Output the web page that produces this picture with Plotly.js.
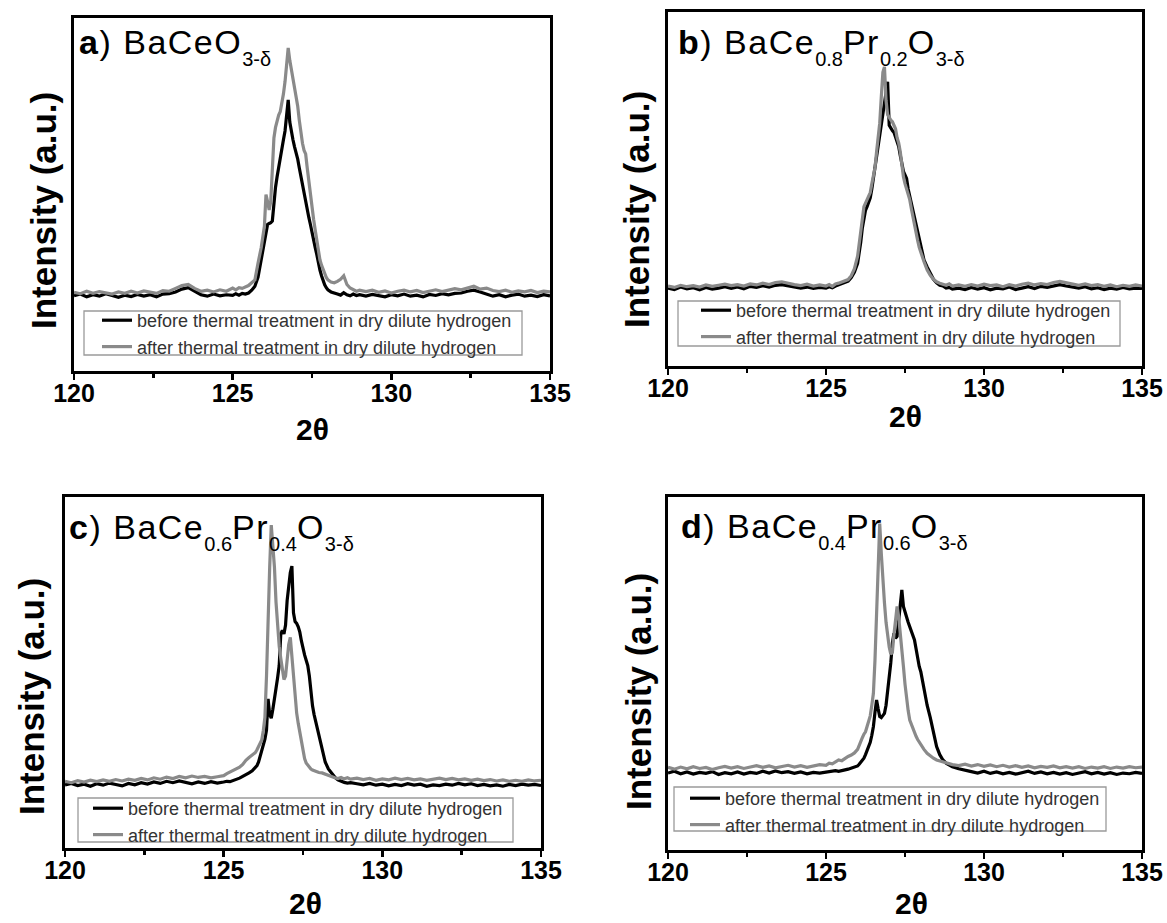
<!DOCTYPE html>
<html><head><meta charset="utf-8">
<script src="https://cdn.plot.ly/plotly-3.0.1.min.js"></script>
<style>html,body{margin:0;padding:0;background:#fff;}#chart{width:1167px;height:923px;}</style>
</head><body><div id="chart"></div>
<script>
// 2θ sampling grid (deg)
const twoTheta = [
 120.0,120.2,120.4,120.6,120.8,121.0,121.2,121.4,121.6,121.8,122.0,122.2,122.4,122.6,122.8,123.0,123.2,123.4,123.6,123.8,124.0,124.2,124.4,124.6,124.8,
 125.0,125.1,125.2,125.3,125.4,125.5,125.6,125.7,125.8,125.9,
 126.0,126.05,126.1,126.15,126.2,126.25,126.3,126.35,126.4,126.45,126.5,126.55,126.6,126.65,126.7,126.75,126.8,126.85,126.9,126.95,
 127.0,127.05,127.1,127.15,127.2,127.25,127.3,127.35,127.4,127.45,127.5,127.55,127.6,127.65,127.7,127.75,127.8,127.85,127.9,127.95,128.0,
 128.1,128.2,128.3,128.4,128.5,128.6,128.7,128.8,128.9,129.0,
 129.2,129.4,129.6,129.8,130.0,130.2,130.4,130.6,130.8,131.0,131.2,131.4,131.6,131.8,132.0,132.2,132.4,132.6,132.8,133.0,133.2,133.4,133.6,133.8,134.0,134.2,134.4,134.6,134.8,135.0
];

// a) BaCeO3-δ
const aBefore = [
 21.3,21.8,21.0,21.6,21.2,21.9,21.4,20.9,21.5,21.1,21.7,21.2,21.6,21.0,21.8,21.9,22.4,23.2,23.6,22.5,21.6,21.2,21.8,21.3,21.6,
 21.4,21.9,21.5,22.0,21.8,22.1,22.9,24.0,26.6,32.0,
 37.0,40.0,41.5,41.8,42.0,42.5,48.0,52.0,55.0,58.0,61.0,63.5,65.5,68.0,72.5,76.8,70.5,67.5,65.5,63.5,
 62.0,60.0,57.5,55.0,53.0,50.5,48.0,45.0,43.5,41.5,39.0,37.0,35.0,33.0,30.5,28.6,27.0,25.5,24.4,23.6,23.0,
 22.4,22.0,21.8,21.5,22.2,21.6,21.3,21.8,21.4,21.6,
 21.2,21.7,21.4,21.0,21.6,21.3,21.8,21.2,21.5,21.0,21.7,21.4,21.9,21.6,22.0,22.1,22.6,22.9,22.4,21.9,21.2,21.6,21.0,21.5,21.8,21.2,21.5,21.1,21.6,21.3
];
const aAfter = [
 22.3,21.9,22.6,22.0,22.5,22.2,21.8,22.4,22.0,22.6,22.1,22.7,22.3,22.0,22.8,22.6,23.4,24.2,24.5,23.4,22.6,22.9,22.4,23.0,22.6,
 23.5,23.0,23.6,23.4,23.8,24.2,25.0,25.8,30.6,35.0,
 41.0,50.0,48.0,45.6,48.0,58.0,66.0,69.0,71.0,72.5,73.5,75.5,78.5,82.0,87.0,91.5,88.0,85.5,82.0,79.5,
 77.0,75.0,71.0,67.5,64.5,62.5,61.5,57.5,53.5,50.0,46.5,43.0,40.0,37.0,34.0,31.5,30.0,28.5,27.7,26.5,25.8,
 25.2,25.0,25.4,26.0,27.0,24.5,23.5,23.0,22.6,22.9,
 22.5,22.9,22.3,22.7,22.1,22.6,22.9,22.4,22.8,22.2,22.6,23.0,22.5,22.9,23.3,23.0,23.6,24.0,23.2,23.5,22.8,22.5,22.9,22.3,22.7,22.4,22.8,22.2,22.6,22.4
];

// b) BaCe0.8Pr0.2O3-δ
const bBefore = [
 22.0,21.6,22.3,21.8,22.1,21.5,22.2,21.7,22.0,22.4,21.9,22.3,21.8,22.5,22.2,22.7,22.3,22.8,23.0,22.6,22.4,22.0,22.3,21.9,22.2,
 22.0,22.4,22.1,22.6,22.9,23.2,23.5,24.0,25.0,26.5,
 29.0,31.5,35.0,39.0,42.0,44.0,45.0,46.0,47.5,50.0,53.0,56.5,60.0,63.0,66.0,69.0,72.0,75.0,77.5,80.3,
 68.0,67.0,66.5,66.0,64.5,63.5,62.0,59.5,57.0,55.0,54.0,53.0,50.0,48.0,45.5,43.0,41.0,39.0,37.0,35.0,33.0,
 30.0,28.0,26.0,24.5,23.5,22.8,22.6,22.0,22.2,21.7,
 22.0,21.6,22.2,21.7,22.1,21.5,22.0,21.8,22.3,21.6,22.0,22.4,21.9,22.5,22.2,22.7,23.0,22.6,22.3,22.0,22.4,21.8,22.1,21.6,22.0,21.7,22.2,21.8,22.0,21.9
];
const bAfter = [
 22.6,22.2,22.8,22.4,22.7,22.3,22.9,22.5,22.8,23.1,22.7,23.0,22.6,23.2,22.9,23.4,23.0,23.6,23.8,23.3,23.0,22.7,23.1,22.6,22.9,
 22.6,23.0,22.5,23.2,23.4,23.8,24.0,24.4,25.5,27.5,
 31.0,34.0,37.5,41.5,45.0,46.0,46.5,47.5,49.0,51.5,53.5,56.0,60.5,64.7,68.6,76.0,83.0,84.5,75.0,71.0,
 70.0,69.5,69.0,68.0,67.0,64.5,63.0,60.5,56.5,53.5,51.5,50.0,48.5,47.0,44.5,42.0,39.5,37.5,35.5,33.5,32.0,
 29.5,27.2,25.6,24.5,23.8,23.4,23.0,22.8,23.2,22.6,
 22.9,22.5,23.0,22.6,23.1,22.7,22.9,22.4,23.0,22.6,23.1,23.4,22.9,23.3,23.0,23.6,23.9,23.5,23.1,22.8,23.2,22.7,23.0,22.5,22.9,22.4,22.8,22.5,22.9,22.6
];

// c) BaCe0.6Pr0.4O3-δ
const cBefore = [
 18.0,18.4,17.8,18.2,17.6,18.3,17.9,18.5,18.1,17.7,18.4,18.0,18.6,18.2,18.8,18.4,19.0,18.6,19.1,18.7,18.3,18.8,18.4,18.9,18.5,
 18.8,19.0,18.9,19.2,19.4,19.9,20.4,20.8,21.4,22.0,
 22.8,23.5,24.5,26.0,27.5,28.8,31.0,33.6,42.5,38.0,37.0,39.5,42.0,45.5,48.5,52.0,61.0,62.0,61.0,63.5,
 70.5,75.0,78.5,80.3,67.0,64.5,64.0,63.0,61.5,59.0,56.5,55.0,53.5,52.0,49.0,44.0,40.5,38.0,36.0,34.0,32.0,
 27.5,24.5,22.5,21.2,20.2,19.4,19.0,18.7,18.5,18.6,
 18.3,18.0,18.4,17.9,18.2,17.7,18.1,17.8,18.3,17.9,18.2,17.6,18.0,17.8,18.2,17.9,18.4,18.0,18.3,17.8,18.1,17.7,18.0,17.6,18.1,17.8,18.2,17.9,18.1,17.8
];
const cAfter = [
 19.0,18.6,19.2,18.8,19.3,18.9,19.4,19.0,19.5,19.1,19.6,19.3,19.8,19.4,20.0,19.6,20.2,19.8,20.4,20.0,20.5,20.1,20.4,20.0,20.3,
 20.6,21.2,21.7,22.2,22.6,23.0,23.8,25.0,25.8,26.5,
 27.2,28.0,29.0,30.0,30.8,33.5,37.3,49.0,68.0,80.0,92.0,87.0,80.0,70.0,62.0,57.5,54.0,50.5,48.0,49.0,
 54.0,58.0,60.0,55.0,47.9,43.0,38.5,35.5,32.8,30.0,27.0,25.5,24.2,23.5,23.0,22.5,22.2,22.0,21.8,21.6,21.5,
 21.4,21.0,20.7,20.3,20.0,19.8,20.1,19.7,20.0,19.6,
 19.9,19.5,19.8,19.3,19.7,19.4,19.9,19.5,19.8,19.4,19.7,19.3,19.6,19.9,19.5,19.8,19.4,19.7,19.3,19.6,19.2,19.5,19.1,19.4,19.0,19.3,19.0,19.4,19.1,19.3
];

// d) BaCe0.4Pr0.6O3-δ
const dBefore = [
 21.8,22.3,21.6,22.1,21.5,22.0,21.7,22.2,21.4,21.9,21.6,22.1,21.5,22.0,21.7,22.3,21.8,22.4,21.9,22.2,21.7,22.1,21.6,22.0,21.8,
 22.0,22.3,22.2,22.5,22.3,22.6,22.7,22.9,23.2,23.5,
 23.8,24.3,24.8,25.3,26.0,27.0,28.0,29.0,30.5,32.5,35.0,39.0,42.5,40.0,37.8,37.5,38.0,38.7,41.0,44.5,
 49.0,53.0,58.5,61.4,60.0,60.5,65.0,70.0,73.7,69.0,67.0,66.0,64.5,63.3,62.0,61.0,59.5,57.0,54.0,52.0,50.5,
 45.5,41.0,37.5,33.5,29.3,27.0,25.5,24.6,24.0,23.6,
 23.0,22.5,22.2,21.8,22.3,21.7,22.1,21.6,22.0,21.5,21.9,22.3,21.7,22.1,21.6,22.0,21.5,21.9,21.4,21.8,22.2,21.6,22.0,21.5,21.9,21.4,21.8,21.6,22.0,21.7
];
const dAfter = [
 23.4,22.9,23.5,23.0,23.6,23.1,23.4,22.8,23.3,23.7,23.2,23.6,23.1,23.5,23.9,23.4,23.8,23.3,23.7,24.0,23.5,23.9,23.4,23.8,24.2,
 24.0,24.6,24.4,25.0,25.5,25.3,26.0,26.5,26.9,27.5,
 28.5,29.8,30.8,31.8,32.8,33.5,35.0,36.5,38.0,41.0,44.4,53.8,66.0,80.0,92.5,84.0,76.0,70.0,64.5,60.0,
 57.5,55.5,56.0,61.0,66.0,69.0,66.0,62.0,57.0,52.0,47.0,42.5,39.5,36.8,35.5,34.2,33.2,32.2,31.3,30.5,29.8,
 28.5,27.4,26.6,26.0,25.5,25.2,24.9,24.6,24.4,24.2,
 23.9,24.3,23.8,24.2,23.7,24.1,23.6,24.0,23.5,23.9,23.4,23.8,23.3,23.7,23.4,23.8,23.3,23.6,23.2,23.6,23.1,23.5,23.2,23.6,23.1,23.5,23.2,23.6,23.3,23.5
];

const tickVals = [120, 125, 130, 135];
const tickText = ['120', '125', '130', '135'];
const minorTickVals = [122.5, 127.5, 132.5];
const seriesNames = ['before thermal treatment in dry dilute hydrogen', 'after thermal treatment in dry dilute hydrogen'];
const panelLetters = ['a', 'b', 'c', 'd'];
// formula pieces: [main text, subscript] pairs
const panelFormulas = [
  [['BaCeO', '3-δ']],
  [['BaCe', '0.8'], ['Pr', '0.2'], ['O', '3-δ']],
  [['BaCe', '0.6'], ['Pr', '0.4'], ['O', '3-δ']],
  [['BaCe', '0.4'], ['Pr', '0.6'], ['O', '3-δ']]
];
const yTitle = 'Intensity (a.u.)';
const xTitle = '2θ';

const W = 1167, H = 923;
const FONT = 'Liberation Sans, Arial, Helvetica, sans-serif';
const px = v => v / W, py = v => 1 - v / H;
const MAIN = t => '<span style="letter-spacing:1.5px">' + t + '</span>';
const SUB = t => '<sub><sub><span style="font-size:20px">' + t + '</span></sub></sub>';

const panels = [
  {before: aBefore, after: aAfter, box: {l: 74, r: 550, t: 18, b: 371}, lbox: [84, 311, 522, 355], lpos: [97, 302], yt: [43, 211], xt: [312, 430], lab: [77, 21]},
  {before: bBefore, after: bAfter, box: {l: 668, r: 1142, t: 12, b: 366}, lbox: [678, 301, 1120, 346], lpos: [696, 292], yt: [637, 210], xt: [905, 416], lab: [676, 21]},
  {before: cBefore, after: cAfter, box: {l: 65, r: 541, t: 497, b: 848}, lbox: [78, 798, 513, 842], lpos: [88, 790], yt: [31, 697], xt: [305, 903], lab: [67, 506]},
  {before: dBefore, after: dAfter, box: {l: 668, r: 1142, t: 497, b: 850}, lbox: [674, 787, 1106, 831], lpos: [685, 780], yt: [638, 692], xt: [912, 903], lab: [679, 505]}
];

const data = [];
const layout = {
  width: W, height: H, margin: {l: 0, r: 0, t: 0, b: 0},
  paper_bgcolor: '#fff', plot_bgcolor: '#fff', showlegend: true,
  annotations: [], shapes: []
};

panels.forEach((p, i) => {
  const n = i === 0 ? '' : String(i + 1);
  const legKey = 'legend' + n;
  const common = {x: twoTheta, xaxis: 'x' + n, yaxis: 'y' + n, mode: 'lines', legend: legKey, hoverinfo: 'skip'};
  data.push(Object.assign({}, common, {y: p.before, name: seriesNames[0], line: {color: '#000', width: 3.2}}));
  data.push(Object.assign({}, common, {y: p.after, name: seriesNames[1], line: {color: '#8a8a8a', width: 3.2}}));

  layout['xaxis' + n] = {
    domain: [px(p.box.l), px(p.box.r)], anchor: 'y' + n, range: [120, 135],
    tickmode: 'array', tickvals: tickVals, ticktext: tickText,
    ticks: 'outside', ticklen: 6, tickwidth: 2.5, tickcolor: '#000',
    minor: {tickmode: 'array', tickvals: minorTickVals, ticks: 'outside', ticklen: 4, tickwidth: 2.5, tickcolor: '#000', showgrid: false},
    showline: true, linewidth: 3, linecolor: '#000', mirror: true,
    showgrid: false, zeroline: false, fixedrange: true, ticklabelstandoff: -8,
    tickfont: {family: FONT, size: 25, color: '#000', weight: 'bold'}
  };
  layout['yaxis' + n] = {
    domain: [py(p.box.b), py(p.box.t)], anchor: 'x' + n, range: [0, 100],
    showticklabels: false, ticks: '', showline: true, linewidth: 3, linecolor: '#000', mirror: true,
    showgrid: false, zeroline: false, fixedrange: true
  };
  layout[legKey] = {
    x: px(p.lpos[0]), y: py(p.lpos[1]), xanchor: 'left', yanchor: 'top',
    bgcolor: 'rgba(0,0,0,0)', borderwidth: 0, tracegroupgap: 0,
    font: {family: FONT, size: 18, color: '#333'}
  };
  layout.shapes.push({type: 'rect', xref: 'paper', yref: 'paper',
    x0: px(p.lbox[0]), x1: px(p.lbox[2]), y0: py(p.lbox[3]), y1: py(p.lbox[1]),
    line: {color: '#9a9a9a', width: 1.3}, fillcolor: 'rgba(0,0,0,0)'});
  const formula = panelFormulas[i].map(([m, s]) => MAIN(m) + SUB(s)).join('');
  layout.annotations.push({xref: 'paper', yref: 'paper', x: px(p.lab[0]), y: py(p.lab[1]),
    xanchor: 'left', yanchor: 'top', showarrow: false,
    text: MAIN('<b>' + panelLetters[i] + '</b>) ') + formula,
    font: {family: FONT, size: 34, color: '#000'}});
  layout.annotations.push({xref: 'paper', yref: 'paper', x: px(p.yt[0]), y: py(p.yt[1]),
    xanchor: 'center', yanchor: 'middle', showarrow: false, textangle: -90, text: yTitle,
    font: {family: FONT, size: 35, color: '#000', weight: 'bold'}});
  layout.annotations.push({xref: 'paper', yref: 'paper', x: px(p.xt[0]), y: py(p.xt[1]),
    xanchor: 'center', yanchor: 'middle', showarrow: false, text: xTitle,
    font: {family: FONT, size: 30, color: '#000', weight: 'bold'}});
});

Plotly.newPlot('chart', data, layout, {displayModeBar: false, staticPlot: true});
</script>
</body></html>
